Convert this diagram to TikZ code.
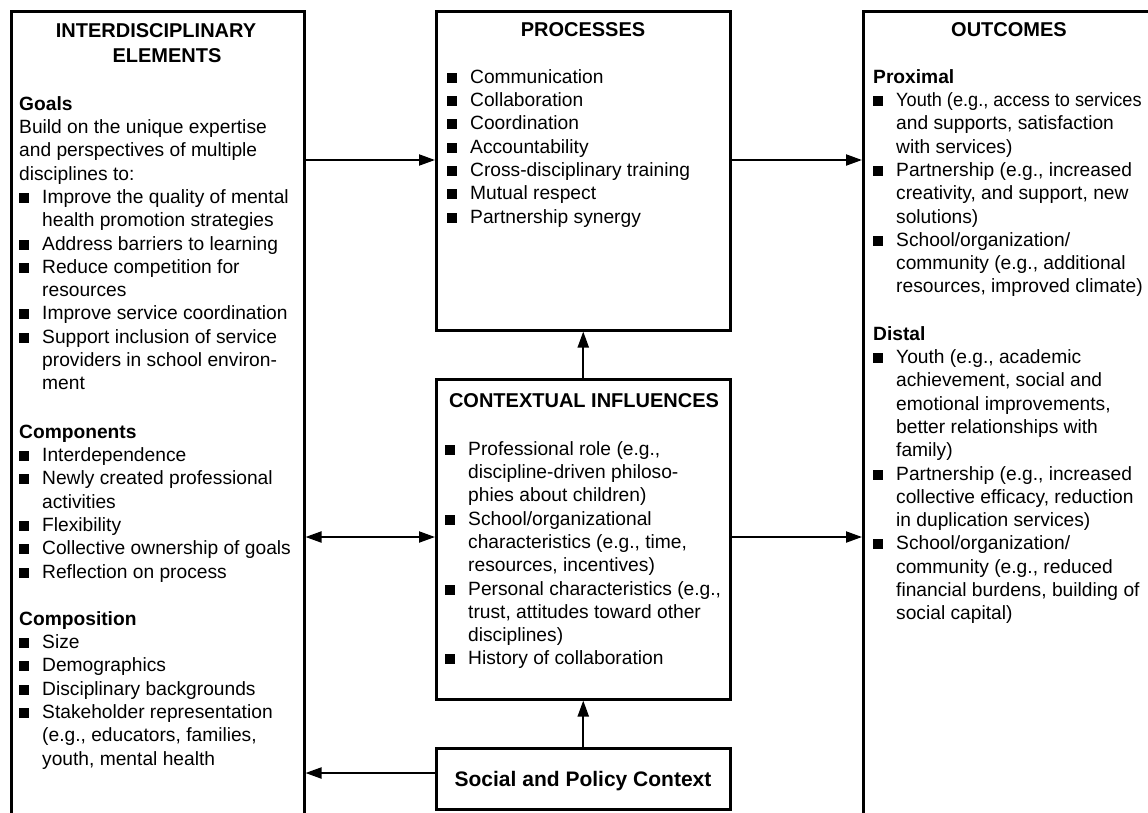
\documentclass[tikz,border=0pt]{standalone}
\usepackage{fontspec}
\setmainfont{Liberation Sans}
\usetikzlibrary{arrows.meta}
\newcommand{\bodyfont}{\fontsize{19.2pt}{23.3pt}\selectfont}
\newcommand{\headfont}{\fontsize{20pt}{25pt}\selectfont\bfseries}
\newcommand{\bulx}{\makebox[23pt][l]{\rule[0.5pt]{10pt}{10pt}}}
\newcommand{\indx}{\hspace*{23pt}}
\newcommand{\fstrut}{\rule{0pt}{16pt}}
\tikzset{
  boxnode/.style={draw, line width=2.5pt, inner sep=0pt, anchor=north west},
  headnode/.style={anchor=base, inner sep=0pt, font=\headfont},
  txtnode/.style={anchor=north west, inner sep=0pt, align=left, font=\bodyfont},
  arr/.style={line width=2pt, -{Triangle[length=16pt,width=11pt]}},
  dblarr/.style={line width=2pt, {Triangle[length=16pt,width=11pt]}-{Triangle[length=16pt,width=11pt]}},
}
\begin{document}
\begin{tikzpicture}[x=1pt,y=-1pt]
\useasboundingbox (0,0) rectangle (1148,812);
\clip (0,0) rectangle (1148,812);
\fill[white] (0,0) rectangle (1148,812);

% boxes
\node[boxnode, minimum width=293pt, minimum height=830pt] (L) at (10,10) {};
\node[boxnode, minimum width=294pt, minimum height=319pt] (P) at (435,10) {};
\node[boxnode, minimum width=294pt, minimum height=320pt] (C) at (435,378) {};
\node[boxnode, minimum width=294pt, minimum height=61pt] (S) at (435,747) {};
\node[boxnode, minimum width=300pt, minimum height=830pt] (O) at (862,10) {};

% headings
\node[headnode] (Lh1) at (156,37) {INTERDISCIPLINARY};
\node[headnode] (Lh2) at (167,62) {ELEMENTS};
\node[headnode] (Ph) at (583,36) {PROCESSES};
\node[headnode] (Ch) at (584,407) {CONTEXTUAL INFLUENCES};
\node[headnode] (Oh) at (1009,36) {OUTCOMES};
\node[anchor=base, inner sep=0pt, font=\fontsize{21pt}{25pt}\selectfont\bfseries] (St) at (583,786) {Social and Policy Context};

% left box text
\node[txtnode] (Lg) at (19,94) {\fstrut\textbf{Goals}\\
Build on the unique expertise\\
and perspectives of multiple\\
disciplines to:\\
\bulx Improve the quality of mental\\
\indx health promotion strategies\\
\bulx Address barriers to learning\\
\bulx Reduce competition for\\
\indx resources\\
\bulx Improve service coordination\\
\bulx Support inclusion of service\\
\indx providers in school environ-\\
\indx ment};
\node[txtnode] (Lc) at (19,422) {\fstrut\textbf{Components}\\
\bulx Interdependence\\
\bulx Newly created professional\\
\indx activities\\
\bulx Flexibility\\
\bulx Collective ownership of goals\\
\bulx Reflection on process};
\node[txtnode] (Lp) at (19,609) {\fstrut\textbf{Composition}\\
\bulx Size\\
\bulx Demographics\\
\bulx Disciplinary backgrounds\\
\bulx Stakeholder representation\\
\indx (e.g., educators, families,\\
\indx youth, mental health};

% processes text
\node[txtnode] (Pt) at (447,67) {\fstrut\bulx Communication\\
\bulx Collaboration\\
\bulx Coordination\\
\bulx Accountability\\
\bulx Cross-disciplinary training\\
\bulx Mutual respect\\
\bulx Partnership synergy};

% contextual text
\node[txtnode] (Ct) at (445,439) {\fstrut\bulx Professional role (e.g.,\\
\indx discipline-driven philoso-\\
\indx phies about children)\\
\bulx School/organizational\\
\indx characteristics (e.g., time,\\
\indx resources, incentives)\\
\bulx Personal characteristics (e.g.,\\
\indx trust, attitudes toward other\\
\indx disciplines)\\
\bulx History of collaboration};

% outcomes text
\node[txtnode] (Op) at (873,67) {\fstrut\textbf{Proximal}\\
\bulx \scalebox{0.945}[1]{Youth (e.g., access to services}\\
\indx and supports, satisfaction\\
\indx with services)\\
\bulx Partnership (e.g., increased\\
\indx creativity, and support, new\\
\indx solutions)\\
\bulx School/organization/\\
\indx community (e.g., additional\\
\indx resources, improved climate)};
\node[txtnode] (Od) at (873,324) {\fstrut\textbf{Distal}\\
\bulx Youth (e.g., academic\\
\indx achievement, social and\\
\indx emotional improvements,\\
\indx better relationships with\\
\indx family)\\
\bulx Partnership (e.g., increased\\
\indx collective efficacy, reduction\\
\indx in duplication services)\\
\bulx School/organization/\\
\indx community (e.g., reduced\\
\indx financial burdens, building of\\
\indx social capital)};

% connectors
\draw[arr] (L.east |- 0,160) -- (P.west |- 0,160);
\draw[arr] (P.east |- 0,160) -- (O.west |- 0,160);
\draw[arr] (C.north) -- (P.south);
\draw[dblarr] (L.east |- 0,537) -- (C.west |- 0,537);
\draw[arr] (C.east |- 0,537) -- (O.west |- 0,537);
\draw[arr] (S.north) -- (C.south);
\draw[arr] (S.west |- 0,773) -- (L.east |- 0,773);
\end{tikzpicture}
\end{document}
